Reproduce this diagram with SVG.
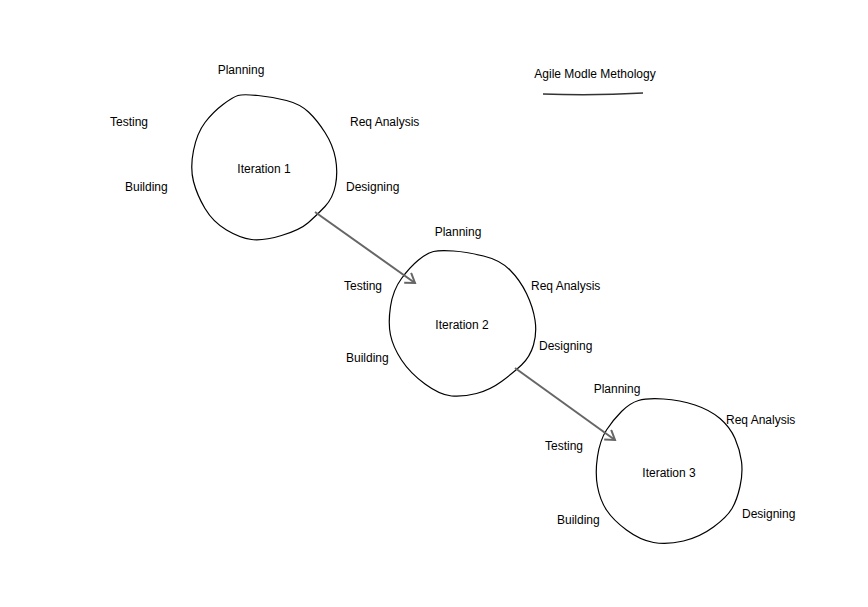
<svg xmlns="http://www.w3.org/2000/svg" width="868" height="607" viewBox="0 0 868 607">
  <style>
    .loop { fill: none; stroke: #000; stroke-width: 1.2; }
    .lbl { font-family: "Liberation Sans", Arial, sans-serif; font-size: 12px; fill: #000; }
    .mid { text-anchor: middle; }
    .link { fill: none; stroke: #666; stroke-width: 2; }
  </style>
  <defs>
    <marker id="chev" markerUnits="userSpaceOnUse" markerWidth="14" markerHeight="14" refX="11" refY="7" orient="auto">
      <path d="M2,1 L11,7 L2,13" fill="none" stroke="#666" stroke-width="2"/>
    </marker>
  </defs>
  <rect width="868" height="607" fill="#fff"/>

  <!-- title -->
  <g id="title">
    <text class="lbl mid" x="595" y="78">Agile Modle Methology</text>
    <path d="M543,94 Q593,96 643,93" fill="none" stroke="#333" stroke-width="1.5"/>
  </g>

  <!-- iteration 1 -->
  <g id="iteration1">
    <path class="loop" d="M238,95.5 Q243,94 258,95.5 Q273,97 286.5,100.5 Q300,104 308.5,112 Q317,120 325,132.5 Q333,145 335.5,158.5 Q338,172 335.5,185 Q333,198 325,206.5 Q317,215 308.5,222.5 Q300,230 281.5,235.5 Q263,241 251.5,239.5 Q240,238 226.5,230 Q213,222 205,208.5 Q197,195 193.5,181.5 Q190,168 193.5,150.5 Q197,133 205,122.5 Q213,112 223,104.5 Q233,97 238,95.5 Z"/>
    <text class="lbl mid" x="264" y="173">Iteration 1</text>
    <text class="lbl mid" x="241" y="74">Planning</text>
    <text class="lbl" x="110" y="126">Testing</text>
    <text class="lbl" x="350" y="126">Req Analysis</text>
    <text class="lbl" x="125" y="191">Building</text>
    <text class="lbl" x="346" y="191">Designing</text>
  </g>

  <!-- iteration 2 -->
  <g id="iteration2">
    <path class="loop" d="M433.5,251.5 Q440,250 453.5,251 Q467,252 483.5,256 Q500,260 510,270 Q520,280 526.5,293.5 Q533,307 535,320 Q537,333 533.5,345 Q530,357 521.5,365 Q513,373 501.5,381.5 Q490,390 476.5,393.5 Q463,397 451.5,396 Q440,395 425,384 Q410,373 401.5,360 Q393,347 390.5,335 Q388,323 390.5,306.5 Q393,290 401.5,278.5 Q410,267 418.5,260 Q427,253 433.5,251.5 Z"/>
    <text class="lbl mid" x="462" y="329">Iteration 2</text>
    <text class="lbl mid" x="458" y="236">Planning</text>
    <text class="lbl" x="344" y="290">Testing</text>
    <text class="lbl" x="531" y="290">Req Analysis</text>
    <text class="lbl" x="346" y="362">Building</text>
    <text class="lbl" x="539" y="350">Designing</text>
  </g>

  <!-- iteration 3 -->
  <g id="iteration3">
    <path class="loop" d="M638.5,400.5 Q647,398 663.5,399 Q680,400 695,405 Q710,410 720,418.5 Q730,427 735,438.5 Q740,450 741.5,461.5 Q743,473 740,486.5 Q737,500 732,508.5 Q727,517 713.5,527 Q700,537 683.5,541 Q667,545 653.5,542.5 Q640,540 626.5,530 Q613,520 606.5,510 Q600,500 597.5,486.5 Q595,473 597.5,456.5 Q600,440 606.5,430 Q613,420 621.5,411.5 Q630,403 638.5,400.5 Z"/>
    <text class="lbl mid" x="669" y="477">Iteration 3</text>
    <text class="lbl mid" x="617" y="393">Planning</text>
    <text class="lbl" x="726" y="424">Req Analysis</text>
    <text class="lbl" x="545" y="450">Testing</text>
    <text class="lbl" x="557" y="524">Building</text>
    <text class="lbl" x="742" y="518">Designing</text>
  </g>

  <!-- connectors between iterations -->
  <g id="connectors">
    <line class="link" x1="315" y1="212" x2="415" y2="283" marker-end="url(#chev)"/>
    <line class="link" x1="515" y1="368" x2="615" y2="440" marker-end="url(#chev)"/>
  </g>
</svg>
